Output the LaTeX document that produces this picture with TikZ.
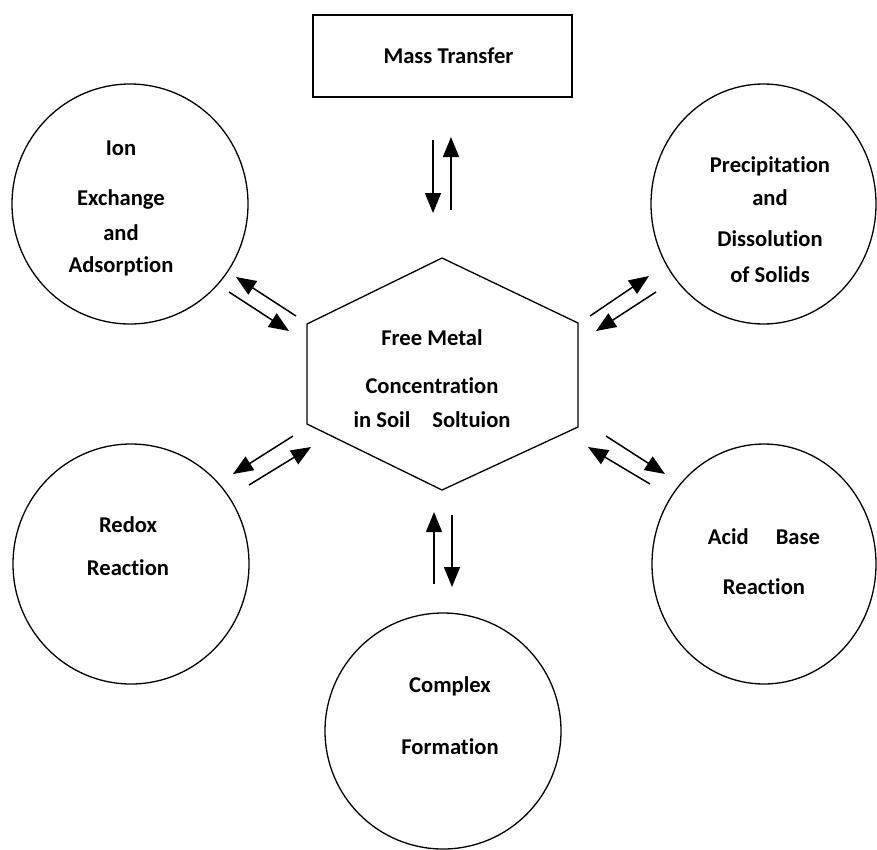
\documentclass[tikz,border=0pt]{standalone}
\usepackage{fontspec}
\setmainfont{Carlito}[Ligatures=NoCommon]
\usetikzlibrary{arrows.meta,shapes.geometric}
\tikzset{
	proc/.style={ellipse,draw,line width=1.3pt,minimum width=236pt,minimum height=240pt,inner sep=0},
	lbl/.style={font=\bfseries\fontsize{22.6}{27}\selectfont,align=center,anchor=base,inner sep=0},
	arr/.style={line width=1.5pt,-{Triangle[length=20pt,width=16pt]}}
}
\begin{document}
\begin{tikzpicture}[x=1pt,y=-1pt]
\useasboundingbox (0,0) rectangle (877,849);
% mass transfer box
\node[draw,line width=1.3pt,minimum width=259pt,minimum height=82pt,
	font=\bfseries\fontsize{22.6}{27}\selectfont] (mt) at (442.5,56) {\hspace*{12pt}Mass Transfer};
% centre
\draw[line width=1.3pt] (442,258) -- (578,323) -- (578,427) -- (442,490)
	-- (307,424) -- (307,324) -- cycle;
\node[lbl] (hex) at (432,427) {Free Metal\\[21pt]Concentration\\[7pt]in Soil\hspace*{22pt}Soltuion};
% processes
\node[proc] (ion) at (130,204) {};
\node[proc,minimum width=225pt] (pre) at (763.5,204) {};
\node[proc] (red) at (131,564) {};
\node[proc,minimum width=224pt] (acb) at (764,564) {};
\node[proc,minimum height=236pt] (cpx) at (443,731) {};
\node[lbl] (ion-t) at (121,272) {Ion\\[23pt]Exchange\\[8pt]and\\[5pt]Adsorption};
\node[lbl] (pre-t) at (770,282) {Precipitation\\[6pt]and\\[14pt]Dissolution\\[9pt]of Solids};
\node[lbl] (red-t) at (128,575) {Redox\\[16pt]Reaction};
\node[lbl] (acb-t) at (764,594) {Acid\hspace*{27pt}Base\\[23pt]Reaction};
\node[lbl] (cpx-t) at (450,754) {Complex\\[35pt]Formation};
% arrow ends
\coordinate (mt-a) at (433,140); \coordinate (mt-b) at (433,213);
\coordinate (mt-c) at (451,210); \coordinate (mt-d) at (451,137);
\coordinate (ion-a) at (296,316); \coordinate (ion-b) at (236,277);
\coordinate (ion-c) at (229,292); \coordinate (ion-d) at (289,331);
\coordinate (pre-a) at (590,316); \coordinate (pre-b) at (649,276);
\coordinate (pre-c) at (656,292); \coordinate (pre-d) at (596,331);
\coordinate (red-a) at (293,436); \coordinate (red-b) at (233,474);
\coordinate (red-c) at (249,485); \coordinate (red-d) at (311,447);
\coordinate (acb-a) at (606,436); \coordinate (acb-b) at (665,474);
\coordinate (acb-c) at (650,484); \coordinate (acb-d) at (588,447);
\coordinate (cpx-a) at (434,584); \coordinate (cpx-b) at (434,512);
\coordinate (cpx-c) at (452,515); \coordinate (cpx-d) at (452,587);
\draw[arr] (mt-a) -- (mt-b);
\draw[arr] (mt-c) -- (mt-d);
\draw[arr] (ion-a) -- (ion-b);
\draw[arr] (ion-c) -- (ion-d);
\draw[arr] (pre-a) -- (pre-b);
\draw[arr] (pre-c) -- (pre-d);
\draw[arr] (red-a) -- (red-b);
\draw[arr] (red-c) -- (red-d);
\draw[arr] (acb-a) -- (acb-b);
\draw[arr] (acb-c) -- (acb-d);
\draw[arr] (cpx-a) -- (cpx-b);
\draw[arr] (cpx-c) -- (cpx-d);
\end{tikzpicture}
\end{document}
